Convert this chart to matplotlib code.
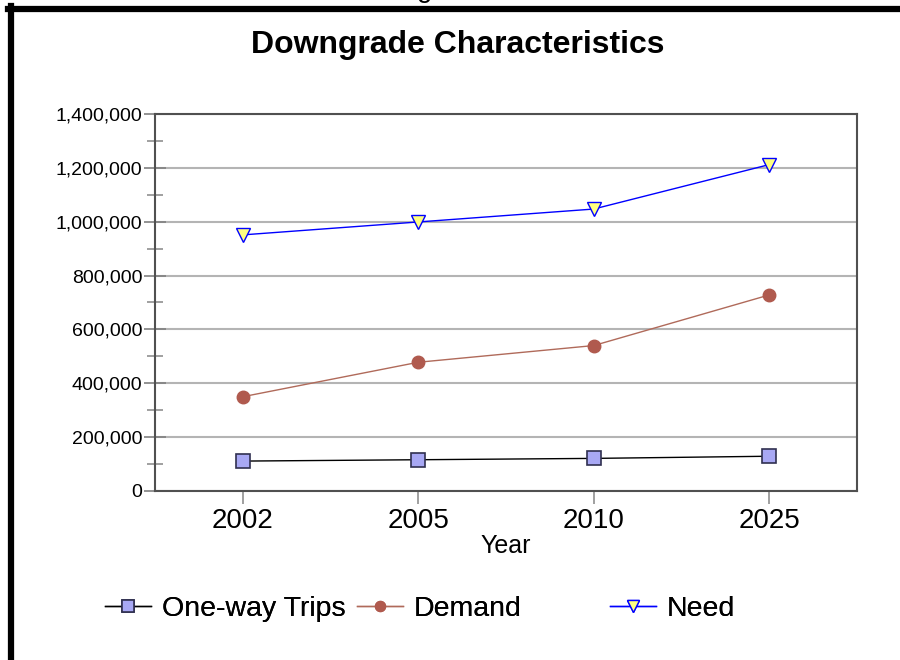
import matplotlib
matplotlib.use("Agg")
import matplotlib.pyplot as plt
from matplotlib.lines import Line2D
from matplotlib.ticker import MultipleLocator, FuncFormatter

plt.rcParams['font.family'] = ['Liberation Sans', 'DejaVu Sans']

years = ["2002", "2005", "2010", "2025"]
one_way_trips = [111000, 116000, 121000, 129000]
demand = [350000, 478000, 540000, 728000]
need = [951000, 999000, 1047000, 1212000]

fig = plt.figure(figsize=(9, 6.6), dpi=100)
ax = fig.add_axes([0.1722, 0.2561, 0.78, 0.5712])

x = range(len(years))
ax.plot(x, one_way_trips, color='black', lw=1, marker='s', ms=10,
        mfc='#A8A8F4', mec='#303050', mew=1.2, label='One-way Trips', zorder=3)
ax.plot(x, demand, color='#B06A5A', lw=1, marker='o', ms=9,
        mfc='#B05A4E', mec='#B05A4E', label='Demand', zorder=3)
ax.plot(x, need, color='#0000FF', lw=1, marker='v', ms=10,
        mfc='#FFFF80', mec='#0000FF', mew=1, label='Need', zorder=3)

ax.set_xlim(-0.5, 3.5)
ax.set_ylim(0, 1400000)
ax.set_xticks(list(x))
ax.set_xticklabels(years, fontsize=20)
ax.yaxis.set_major_locator(MultipleLocator(200000))
ax.yaxis.set_minor_locator(MultipleLocator(100000))
ax.yaxis.set_major_formatter(FuncFormatter(lambda v, p: f"{int(v):,}"))
ax.tick_params(axis='y', which='major', direction='inout', length=16,
               color='#808080', labelsize=14, width=1.2, pad=1)
ax.tick_params(axis='y', which='minor', direction='inout', length=12,
               color='#909090', width=1.2)
ax.tick_params(axis='x', direction='out', length=9, color='#909090',
               width=1.2, pad=3)
ax.grid(axis='y', which='major', color='#B4B4B4', lw=1.5, zorder=0)
for s in ax.spines.values():
    s.set_color('#505050')
    s.set_linewidth(1.5)

ax.set_xlabel('Year', fontsize=18, labelpad=0)
fig.text(0.509, 0.932, 'Downgrade Characteristics', fontsize=23,
         fontweight='bold', ha='center', va='center')
fig.text(0.472, 1.0045, 'g', fontsize=20, ha='center', va='baseline')

# frame lines in top-left
fig.add_artist(Line2D([8 / 900, 1], [1 - 9 / 660, 1 - 9 / 660],
                      transform=fig.transFigure, color='black', lw=4.5))
fig.add_artist(Line2D([11 / 900, 11 / 900], [0, 1 - 6 / 660],
                      transform=fig.transFigure, color='black', lw=4.5))

# legend entries placed one by one
handles, labels = ax.get_legend_handles_labels()
positions = [105 / 900, 357 / 900, 610 / 900]
for h, l, px in zip(handles, labels, positions):
    leg = fig.legend([h], [l], loc='center left',
                     bbox_to_anchor=(px, 1 - 609 / 660), frameon=False,
                     fontsize=20.5, handlelength=1.6, handletextpad=0.4,
                     markerscale=0.8, borderpad=0, borderaxespad=0)
    fig.add_artist(leg)

fig.savefig('out.png', dpi=100)
